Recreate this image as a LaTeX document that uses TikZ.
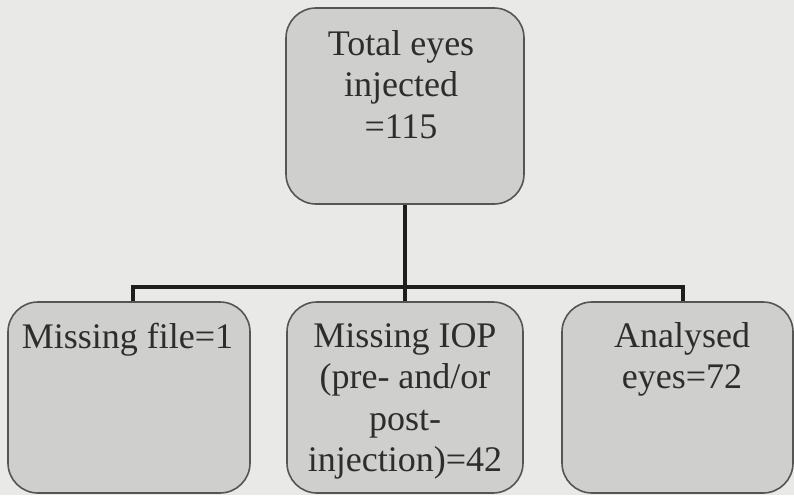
\documentclass[tikz,border=0pt]{standalone}
\usepackage{fontspec}
\setmainfont{Liberation Serif}
\definecolor{bgc}{RGB}{233,233,231}
\definecolor{boxc}{RGB}{207,207,206}
\definecolor{edgec}{RGB}{85,85,85}
\definecolor{txtc}{RGB}{45,45,45}
\definecolor{linec}{RGB}{30,30,30}
\begin{document}
\begin{tikzpicture}[x=1pt,y=-1pt,
  box/.style={draw=edgec, fill=boxc, line width=1.6pt, rounded corners=30pt, inner sep=0pt},
  lbl/.style={anchor=north, inner sep=0pt, align=center, text=txtc, font=\fontsize{36}{41.5}\selectfont},
  conn/.style={draw=linec, line width=4.5pt}]
\fill[bgc] (0,0) rectangle (794,495);
\useasboundingbox (0,0) rectangle (794,495);
\node[box, minimum width=238pt, minimum height=196pt] (T) at (405,106) {};
\node[box, minimum width=242pt, minimum height=191pt] (L) at (129,397.5) {};
\node[box, minimum width=236pt, minimum height=191pt] (M) at (405,397.5) {};
\node[box, minimum width=231pt, minimum height=191pt] (R) at (677.5,397.5) {};
\node[lbl] (tT) at (401,30) {Total eyes\\injected\\=115};
\node[lbl] (tL) at (127.5,323) {Missing file=1};
\node[lbl] (tM) at (405,323) {Missing IOP\\(pre- and/or\\post-\\injection)=42};
\node[lbl] (tR) at (682,322) {Analysed\\eyes=72};
\draw[conn] (T.south) -- (M.north);
\draw[conn] ([xshift=4pt]L.north) -- ++(0,-14) -| ([xshift=5.5pt]R.north);
\end{tikzpicture}
\end{document}
